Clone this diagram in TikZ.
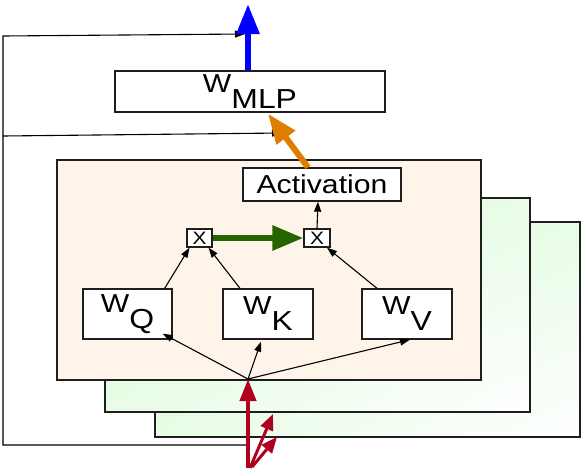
\documentclass[tikz,border=0pt]{standalone}
\usepackage{fontspec}
\setmainfont{Liberation Sans}
\newfontfamily\wf[FakeStretch=1.16]{Liberation Sans}
\usetikzlibrary{arrows.meta,shadings}
\definecolor{peach}{RGB}{254,244,234}
\definecolor{pgreen}{RGB}{214,249,212}
\definecolor{pgreenmid}{RGB}{232,252,230}
\definecolor{edge}{RGB}{30,30,30}
\definecolor{redarr}{RGB}{176,0,32}
\definecolor{orangearr}{RGB}{222,125,0}
\definecolor{greenarr}{RGB}{38,100,0}
\newcommand\lowsub[1]{\raisebox{-16pt}{\fontsize{27.5}{29}\selectfont #1}}
\tikzset{
  panel/.style={draw=edge, line width=1.3pt},
  box/.style={draw=edge, line width=1.3pt, fill=white, inner sep=0pt},
  bigtext/.style={font=\wf\fontsize{26}{28}\selectfont},
  thin/.style={draw=black, line width=1.1pt, -{Triangle[length=10pt,width=7pt]}},
  fat/.style={line width=6pt, -{Triangle[length=30pt,width=22pt]}},
  redfat/.style={draw=redarr, line width=4pt, -{Triangle[length=22pt,width=16pt]}},
  redthin/.style={draw=redarr, line width=3pt, -{Triangle[length=16pt,width=13pt]}}
}
\begin{document}
\begin{tikzpicture}[x=1pt,y=-1pt]
\useasboundingbox (0,0) rectangle (581,472);
% stacked panels
\shade[panel, upper left=pgreen, upper right=pgreenmid, lower left=pgreenmid, lower right=white] (155,222) rectangle (580,437);
\shade[panel, upper left=pgreen, upper right=pgreenmid, lower left=pgreenmid, lower right=white] (105,198) rectangle (530,412);
\filldraw[panel, fill=peach] (57,160) rectangle (481,380);

% nodes
\node[box, bigtext, minimum width=270pt, minimum height=41pt] (mlp) at (250,91.5) {W\lowsub{MLP}};
\node[box, bigtext, minimum width=158pt, minimum height=33pt] (act) at (322,184.5) {Activation};
\node[box, font=\wf\fontsize{18}{19}\selectfont, minimum width=25pt, minimum height=18pt] (xl) at (199.5,238) {X};
\node[box, font=\wf\fontsize{18}{19}\selectfont, minimum width=26pt, minimum height=18pt] (xr) at (317,238) {X};
\node[box, bigtext, minimum width=89pt, minimum height=50pt] (wq) at (127.5,314) {W\lowsub{Q}};
\node[box, bigtext, minimum width=90pt, minimum height=50pt] (wk) at (268,314) {W\lowsub{K}};
\node[box, bigtext, minimum width=90pt, minimum height=50pt] (wv) at (407,314) {W\lowsub{V}};

\coordinate (src) at (248,379);
\coordinate (inA) at (248,468);
\coordinate (inB) at (250,468);
\coordinate (inC) at (252,467);
\coordinate (tipB) at (273,414);
\coordinate (tipC) at (277,437);
\coordinate (out) at (248,4);
\coordinate (fbB) at (248,445);
\coordinate (fbBL) at (3,445);
\coordinate (fbTL) at (3,36);
\coordinate (fbML) at (3,136);
\coordinate (fbT) at (245,34);
\coordinate (fbM) at (282,133);

% feedback lines
\draw[thin] (fbB) -- (fbBL) -- (fbTL) -- (fbT);
\draw[thin] (fbML) -- (fbM);

% inputs to W boxes
\draw[thin] (src) -- ([xshift=-10pt,yshift=6pt]wq.south east);
\draw[thin] (src) -- ([xshift=-7pt,yshift=-2pt]wk.south);
\draw[thin] (src) -- ([xshift=3pt]wv.south);

% W boxes to X boxes
\draw[thin] ([xshift=-8pt]wq.north east) -- ([xshift=-10pt]xl.south);
\draw[thin] ([xshift=-28pt]wk.north) -- ([xshift=9pt]xl.south);
\draw[thin] ([xshift=-30pt]wv.north) -- ([xshift=10pt]xr.south);
\draw[thin] (xr.north) -- ([xshift=-4pt]act.south);

% thick arrows
\draw[fat, draw=greenarr, fill=greenarr, line width=6pt, -{Triangle[length=31pt,width=24pt]}] (xl.east) -- (xr.west);
\draw[fat, draw=orangearr, fill=orangearr] ([xshift=-14pt]act.north) -- ([xshift=18pt,yshift=-1pt]mlp.south);
\draw[fat, draw=blue, fill=blue] ([xshift=-2pt]mlp.north) -- (out);

% red inputs
\draw[redfat, fill=redarr] (inA) -- (src);
\draw[redthin, fill=redarr] (inB) -- (tipB);
\draw[redthin, fill=redarr] (inC) -- (tipC);
\end{tikzpicture}
\end{document}
